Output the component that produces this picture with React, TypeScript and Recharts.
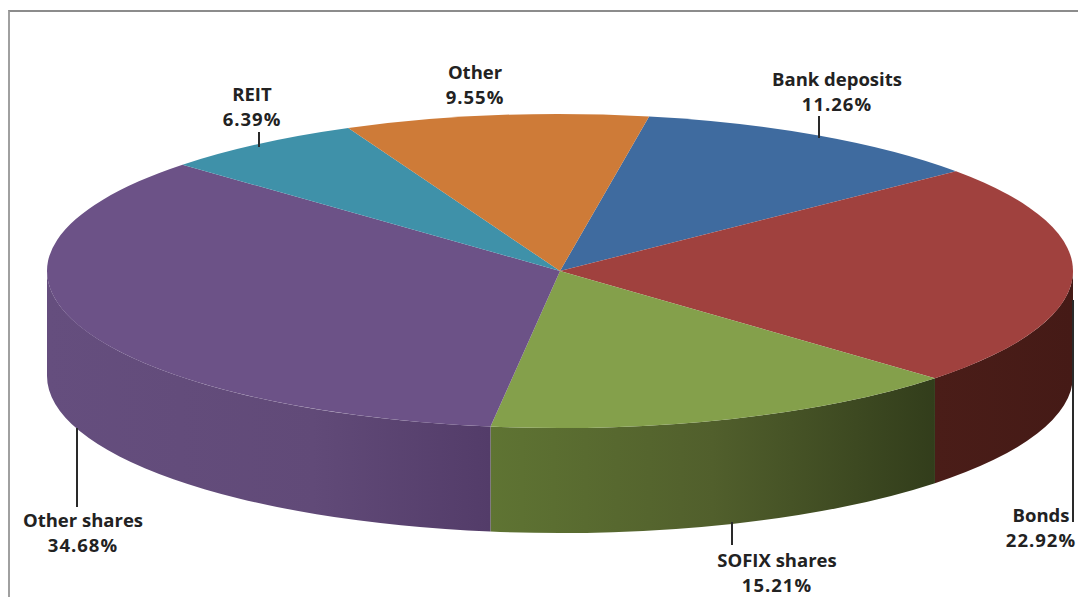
import React from "react";
import { PieChart, Pie } from "recharts";

const NAMES = ["Bank deposits", "Bonds", "SOFIX shares", "Other shares", "REIT", "Other"];
const VALUES = [11.26, 22.92, 15.21, 34.68, 6.39, 9.55];
const COLORS = ["#3F6B9F", "#A0413E", "#84A04B", "#6C5287", "#3F91A9", "#CE7B38"];
const WALL_IDS = ["wall0", "wall1", "wall2", "wall3", "wall4", "wall5"];

// Presentation constants for the tilted disc
const CX = 560;
const CY = 271;
const RX = 513;
const TILT = 157 / 513;
const DEPTH = 105;
const FONT = "'Open Sans', Lato, sans-serif";

// text centre x, first line baseline y, leader line [x, y1, y2]
const LABEL_LAYOUT: { x: number; y: number; line?: number[] }[] = [
  { x: 837, y: 86, line: [819, 116, 138] },
  { x: 1041, y: 522, line: [1073, 300, 522] },
  { x: 777, y: 567, line: [732, 522, 545] },
  { x: 83, y: 527, line: [77, 428, 507] },
  { x: 252, y: 101, line: [259, 132, 147] },
  { x: 475, y: 79 },
];

const data = NAMES.map((name, i) => ({
  name,
  value: VALUES[i],
  fill: COLORS[i],
  wall: WALL_IDS[i],
}));

const pt = (deg: number, r: number, dy = 0) => {
  const a = (deg * Math.PI) / 180;
  return [CX + r * Math.cos(a), CY - r * TILT * Math.sin(a) + dy];
};

const wallPath = (a1: number, a2: number, r: number) => {
  const [x1, y1] = pt(a1, r);
  const [x2, y2] = pt(a2, r);
  const ry = r * TILT;
  return `M${x1},${y1}A${r},${ry} 0 0 1 ${x2},${y2}L${x2},${y2 + DEPTH}A${r},${ry} 0 0 0 ${x1},${y1 + DEPTH}Z`;
};

const Slice = (props: any) => {
  const { startAngle, endAngle, outerRadius, fill, wall } = props;
  const r = outerRadius;
  const [x1, y1] = pt(startAngle, r);
  const [x2, y2] = pt(endAngle, r);
  const large = startAngle - endAngle > 180 ? 1 : 0;
  const top = `M${CX},${CY}L${x1},${y1}A${r},${r * TILT} 0 ${large} 1 ${x2},${y2}Z`;
  // visible (front) part of the rim: angles between 0 and -180
  const from = Math.min(startAngle, 0);
  const to = Math.max(endAngle, -180);
  return (
    <g>
      {from > to && <path d={wallPath(from, to, r)} fill={`url(#${wall})`} stroke="none" />}
      <path d={top} fill={fill} stroke="none" />
    </g>
  );
};

const Label = (props: any) => {
  const { index, name, value } = props;
  const l = LABEL_LAYOUT[index];
  return (
    <g>
      {l.line && (
        <line x1={l.line[0]} x2={l.line[0]} y1={l.line[1]} y2={l.line[2]} stroke="#2a2a2a" strokeWidth={2} />
      )}
      <text x={l.x} y={l.y} textAnchor="middle" fontFamily={FONT} fontWeight={700} fontSize={18.5} fill="#222">
        <tspan x={l.x}>{name}</tspan>
        <tspan x={l.x} dy={25} letterSpacing={1}>{`${value.toFixed(2)}%`}</tspan>
      </text>
    </g>
  );
};

export default function App() {
  return (
    <div style={{ position: "absolute", left: 0, top: 0, width: 1078, height: 597, background: "#fff", overflow: "hidden" }}>
      <div
        style={{
          position: "absolute",
          left: 8,
          top: 10,
          width: 1070,
          height: 587,
          borderTop: "2px solid #8c8c8c",
          borderLeft: "2px solid #a0a0a0",
          boxSizing: "border-box",
        }}
      />
      <div style={{ position: "absolute", left: 0, top: 0 }}>
        <PieChart width={1078} height={597} margin={{ top: 0, right: 0, bottom: 0, left: 0 }}>
          <defs>
            <linearGradient id="wall1" gradientUnits="userSpaceOnUse" x1={935} x2={1073} y1={0} y2={0}>
              <stop offset="0" stopColor="#4A1D18" />
              <stop offset="1" stopColor="#451A16" />
            </linearGradient>
            <linearGradient id="wall2" gradientUnits="userSpaceOnUse" x1={490} x2={935} y1={0} y2={0}>
              <stop offset="0" stopColor="#5F7433" />
              <stop offset="0.5" stopColor="#515F2C" />
              <stop offset="1" stopColor="#323D1B" />
            </linearGradient>
            <linearGradient id="wall3" gradientUnits="userSpaceOnUse" x1={47} x2={490} y1={0} y2={0}>
              <stop offset="0" stopColor="#654E7E" />
              <stop offset="0.6" stopColor="#614A78" />
              <stop offset="1" stopColor="#533C69" />
            </linearGradient>
          </defs>
          <Pie
            data={data}
            dataKey="value"
            nameKey="name"
            cx={CX}
            cy={CY}
            innerRadius={0}
            outerRadius={RX}
            startAngle={80}
            endAngle={-280}
            paddingAngle={0}
            stroke="none"
            isAnimationActive={false}
            shape={Slice}
            label={Label}
            labelLine={false}
          />
        </PieChart>
      </div>
    </div>
  );
}
